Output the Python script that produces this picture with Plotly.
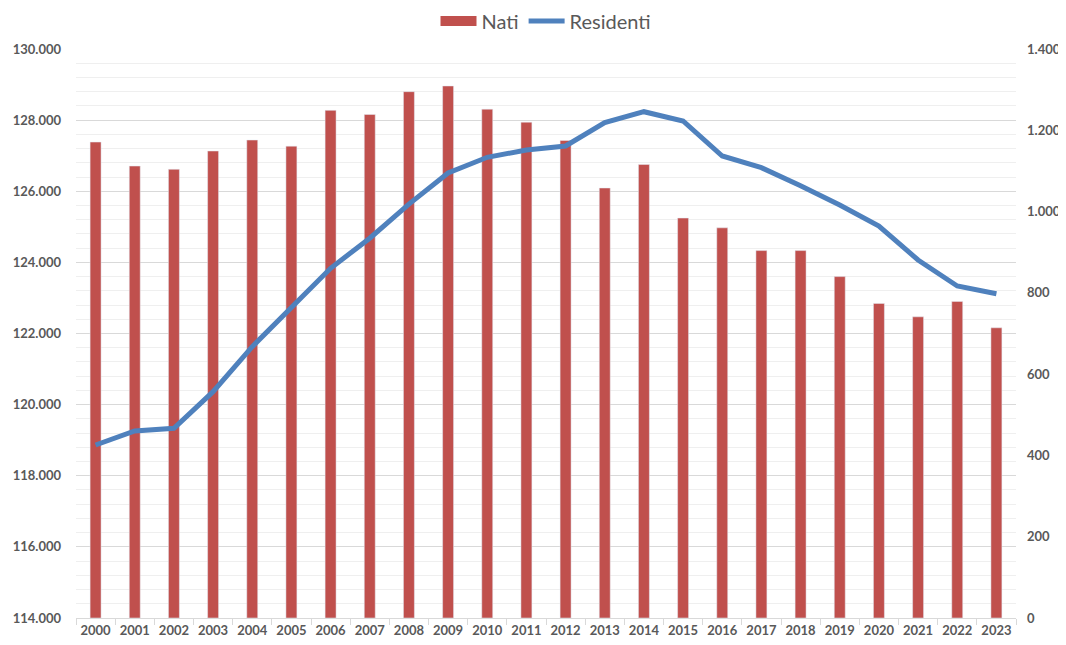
import plotly.graph_objects as go

years = [str(y) for y in range(2000, 2024)]
nati = [1171, 1112, 1104, 1149, 1176, 1161, 1249, 1239, 1295, 1309, 1252, 1220,
        1175, 1058, 1116, 984, 960, 904, 904, 840, 774, 741, 779, 714]
residenti = [118865, 119258, 119334, 120364, 121630, 122708, 123834, 124680,
             125640, 126513, 126955, 127160, 127272, 127928, 128237, 127975,
             126991, 126662, 126157, 125613, 125023, 124067, 123336, 123119]

left_ticks = list(range(114000, 130001, 2000))
right_ticks = list(range(0, 1401, 200))

RED = "#C0504D"
BLUE = "#4F81BD"
TXT = "#595959"
FONT = "Lato"

fig = go.Figure()

# bars on primary (right side) axis so line overlay draws on top
fig.add_trace(go.Bar(x=years, y=nati, name="Nati", marker_color=RED,
                     yaxis="y", showlegend=False))
fig.add_trace(go.Scatter(x=[None], y=[None], mode="lines", name="Nati",
                         line=dict(color=RED, width=10), yaxis="y"))
fig.add_trace(go.Scatter(x=years, y=residenti, mode="lines", name="Residenti",
                         line=dict(color=BLUE, width=5), yaxis="y2"))

# page body has an 8px default margin, so the figure is sized to fit
fig.update_layout(
    width=1058, height=637,
    margin=dict(l=68, r=50, t=41, b=27, autoexpand=False),
    paper_bgcolor="white", plot_bgcolor="white",
    separators=",.",
    bargap=0.72,
    font=dict(family=FONT, color=TXT),
    legend=dict(orientation="h", x=0.5, xanchor="center", y=1.049, yanchor="middle",
                font=dict(size=20, color=TXT, family=FONT), itemwidth=36,
                traceorder="normal"),
    xaxis=dict(type="category", showgrid=False, showline=True, linecolor="#D9D9D9",
               linewidth=1, ticks="outside", tickson="boundaries", ticklen=6,
               tickcolor="#D9D9D9", tickangle=0, automargin=False,
               tickfont=dict(size=13, color=TXT, family=FONT, weight="bold")),
    yaxis=dict(side="right", range=[0, 1400], tickvals=right_ticks,
               tickformat=",d", showgrid=False, zeroline=False, showline=False,
               ticks="", ticklabelstandoff=10, automargin=False,
               tickfont=dict(size=13, color=TXT, family=FONT, weight="bold")),
    yaxis2=dict(side="left", overlaying="y", range=[114000, 130000],
                tickvals=left_ticks, tickformat=",d", showgrid=True,
                gridcolor="#D9D9D9", gridwidth=1, zeroline=False, showline=False,
                ticks="", ticklabelstandoff=14, automargin=False,
                minor=dict(dtick=400, showgrid=True, gridcolor="#EFEFEF", gridwidth=1),
                tickfont=dict(size=13, color=TXT, family=FONT, weight="bold")),
)

fig.write_html("out.html")
